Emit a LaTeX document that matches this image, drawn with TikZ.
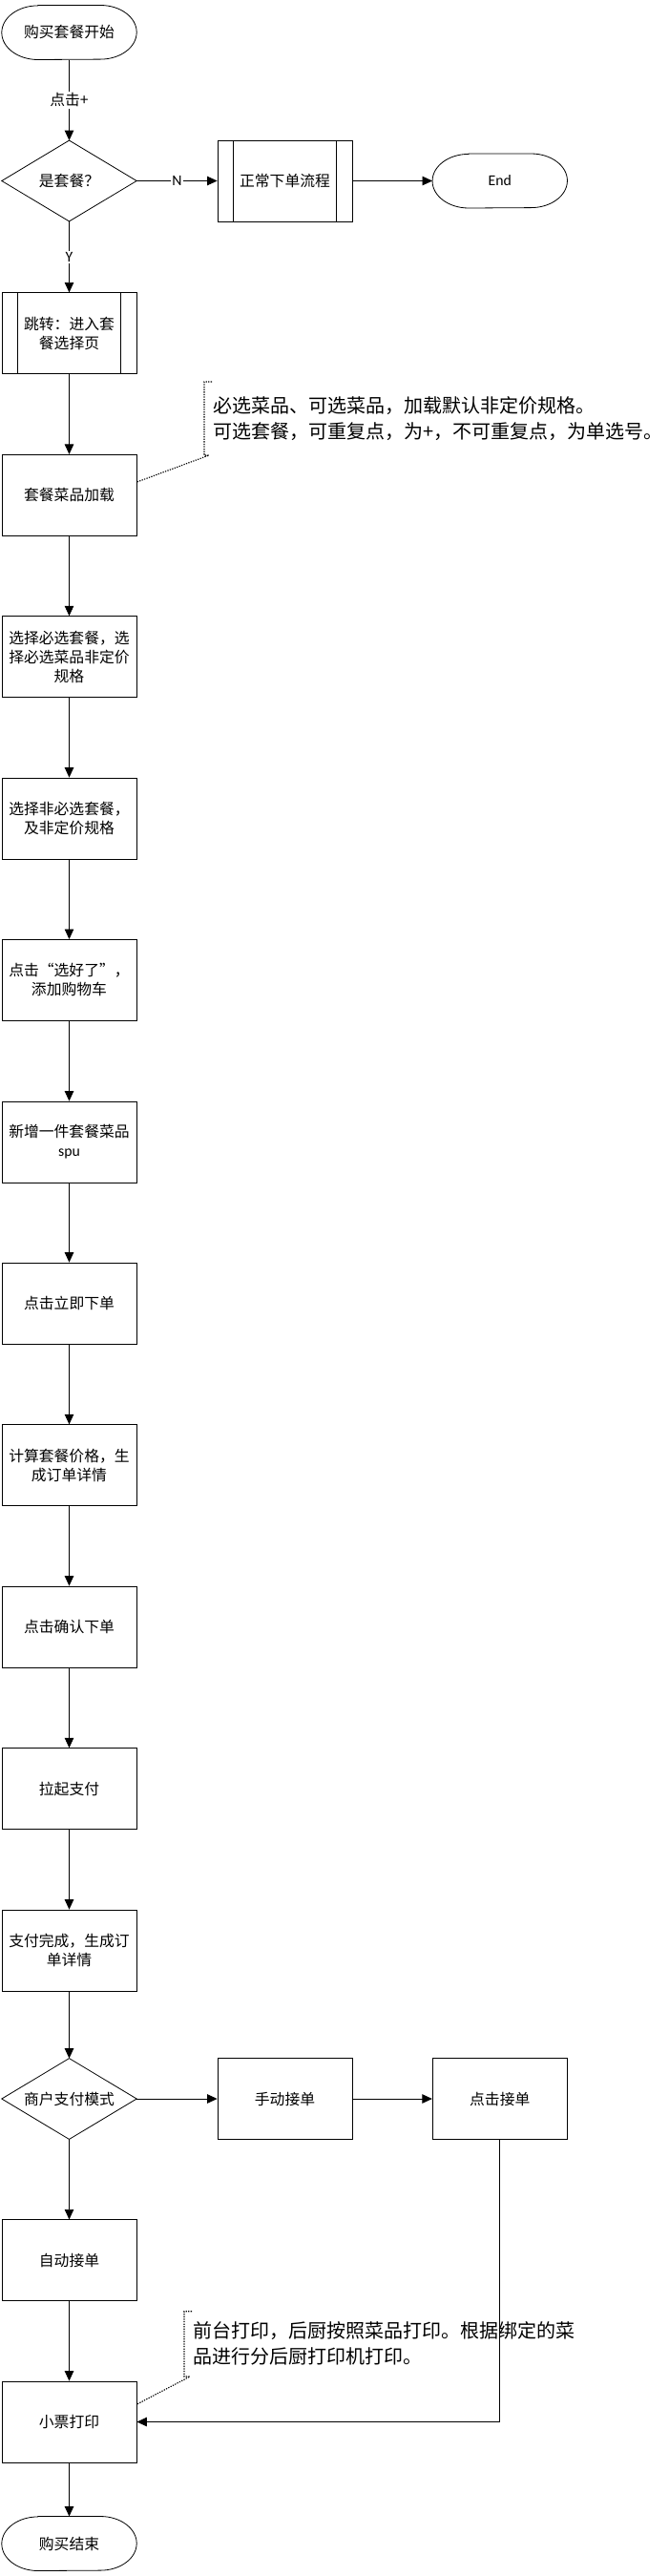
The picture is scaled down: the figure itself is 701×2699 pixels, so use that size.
\documentclass[tikz,border=0pt]{standalone}
\usepackage{fontspec}
\setmainfont{Noto Sans CJK SC}
\newfontfamily\lat{Carlito}
\usetikzlibrary{arrows.meta}
\newcommand\termshape[1]{\draw[line width=0.8pt] ([xshift=38pt]#1.north west) -- ([xshift=-38pt]#1.north east) arc[start angle=90,end angle=-90,x radius=38pt,y radius=28.3pt] -- ([xshift=38pt]#1.south west) arc[start angle=270,end angle=90,x radius=38pt,y radius=28.3pt] -- cycle;}
\newcommand\decshape[1]{\draw[line width=0.8pt] (#1.north) -- (#1.east) -- (#1.south) -- (#1.west) -- cycle;}
\newcommand\procshape[1]{\draw[line width=0.8pt] ([xshift=17pt]#1.north west) -- ([xshift=17pt]#1.south west) ([xshift=-17pt]#1.north east) -- ([xshift=-17pt]#1.south east);}
\begin{document}
\begin{tikzpicture}[x=1pt,y=-1pt,
  txt/.style={font=\fontsize{15.8}{20}\selectfont, align=center, inner sep=0pt},
  box/.style={txt, draw, line width=0.8pt, minimum width=141pt, minimum height=85pt},
  term/.style={txt, minimum width=141pt, minimum height=56.6pt},
  dec/.style={txt, minimum width=141pt, minimum height=84.4pt},
  arr/.style={-{Triangle[length=10.5pt,width=9.5pt]}, line width=0.8pt},
  lbl/.style={txt, fill=white, inner sep=1.5pt},
  note/.style={font=\fontsize{20}{26.5}\selectfont, align=left, inner sep=0pt, anchor=west},
  leader/.style={line width=1.1pt, dash pattern=on 1.3pt off 1.3pt, black}
]
\fill[white] (0,0) rectangle (701,2699);
\useasboundingbox (0,0) rectangle (701,2699);

% nodes
\node[term] (start) at (72.5,34) {购买套餐开始};
\termshape{start}
\node[dec] (d1) at (72.5,189.5) {是套餐？};
\decshape{d1}
\node[box] (normal) at (298.5,189.5) {正常下单流程};
\procshape{normal}
\node[term] (endA) at (523.75,189.5) {\lat End};
\termshape{endA}
\node[box] (jump) at (72.5,349.3) {跳转：进入套\\餐选择页};
\procshape{jump}
\node[box] (load) at (72.5,518.8) {套餐菜品加载};
\node[box] (sel1) at (72.5,688.2) {选择必选套餐，选\\择必选菜品非定价\\规格};
\node[box] (sel2) at (72.5,857.5) {选择非必选套餐，\\及非定价规格};
\node[box] (cart) at (72.5,1026.9) {点击“选好了”，\\添加购物车};
\node[box] (spu) at (72.5,1196.5) {新增一件套餐菜品\\{\lat spu}};
\node[box] (order) at (72.5,1365.5) {点击立即下单};
\node[box] (calc) at (72.5,1535.2) {计算套餐价格，生\\成订单详情};
\node[box] (confirm) at (72.5,1704.5) {点击确认下单};
\node[box] (pay) at (72.5,1874.2) {拉起支付};
\node[box] (paid) at (72.5,2043.5) {支付完成，生成订\\单详情};
\node[dec] (d2) at (72.5,2199) {商户支付模式};
\decshape{d2}
\node[box] (manual) at (298.5,2199) {手动接单};
\node[box] (accept) at (523.75,2199) {点击接单};
\node[box] (auto) at (72.5,2368.3) {自动接单};
\node[box] (print) at (72.5,2537.5) {小票打印};
\node[term] (finish) at (72.5,2665) {购买结束};
\termshape{finish}

% connectors
\draw[arr] (start) -- node[lbl] {点击+} (d1);
\draw[arr] (d1.east) -- node[lbl] {\lat N} (normal.west);
\draw[arr] (normal) -- (endA);
\draw[arr] (d1.south) -- node[lbl] {\lat Y} (jump.north);
\draw[arr] (jump) -- (load);
\draw[arr] (load) -- (sel1);
\draw[arr] (sel1) -- (sel2);
\draw[arr] (sel2) -- (cart);
\draw[arr] (cart) -- (spu);
\draw[arr] (spu) -- (order);
\draw[arr] (order) -- (calc);
\draw[arr] (calc) -- (confirm);
\draw[arr] (confirm) -- (pay);
\draw[arr] (pay) -- (paid);
\draw[arr] (paid) -- (d2.north);
\draw[arr] (d2.east) -- (manual.west);
\draw[arr] (manual) -- (accept);
\draw[arr] (d2.south) -- (auto);
\draw[arr] (auto) -- (print);
\draw[arr] (accept.south) |- (print.east);
\draw[arr] (print) -- (finish);

% note 1
\coordinate (n1a) at (222,400);
\coordinate (n1b) at (214,400);
\coordinate (n1c) at (214,477);
\coordinate (n1d) at (219,477);
\coordinate (n1e) at (143.5,505);
\draw[leader] (n1a) -- (n1b) -- (n1c) -- (n1d) -- (n1e);
\node[note] (note1) at (223,438.4) {必选菜品、可选菜品，加载默认非定价规格。\\可选套餐，可重复点，为+，不可重复点，为单选号。};

% note 2
\coordinate (n2a) at (201,2421.7);
\coordinate (n2b) at (193,2421.7);
\coordinate (n2c) at (193,2490);
\coordinate (n2d) at (199,2490);
\coordinate (n2e) at (143.5,2519);
\draw[leader] (n2a) -- (n2b) -- (n2c) -- (n2d) -- (n2e);
\node[note] (note2) at (202,2455.5) {前台打印，后厨按照菜品打印。根据绑定的菜\\品进行分后厨打印机打印。};
\end{tikzpicture}
\end{document}
